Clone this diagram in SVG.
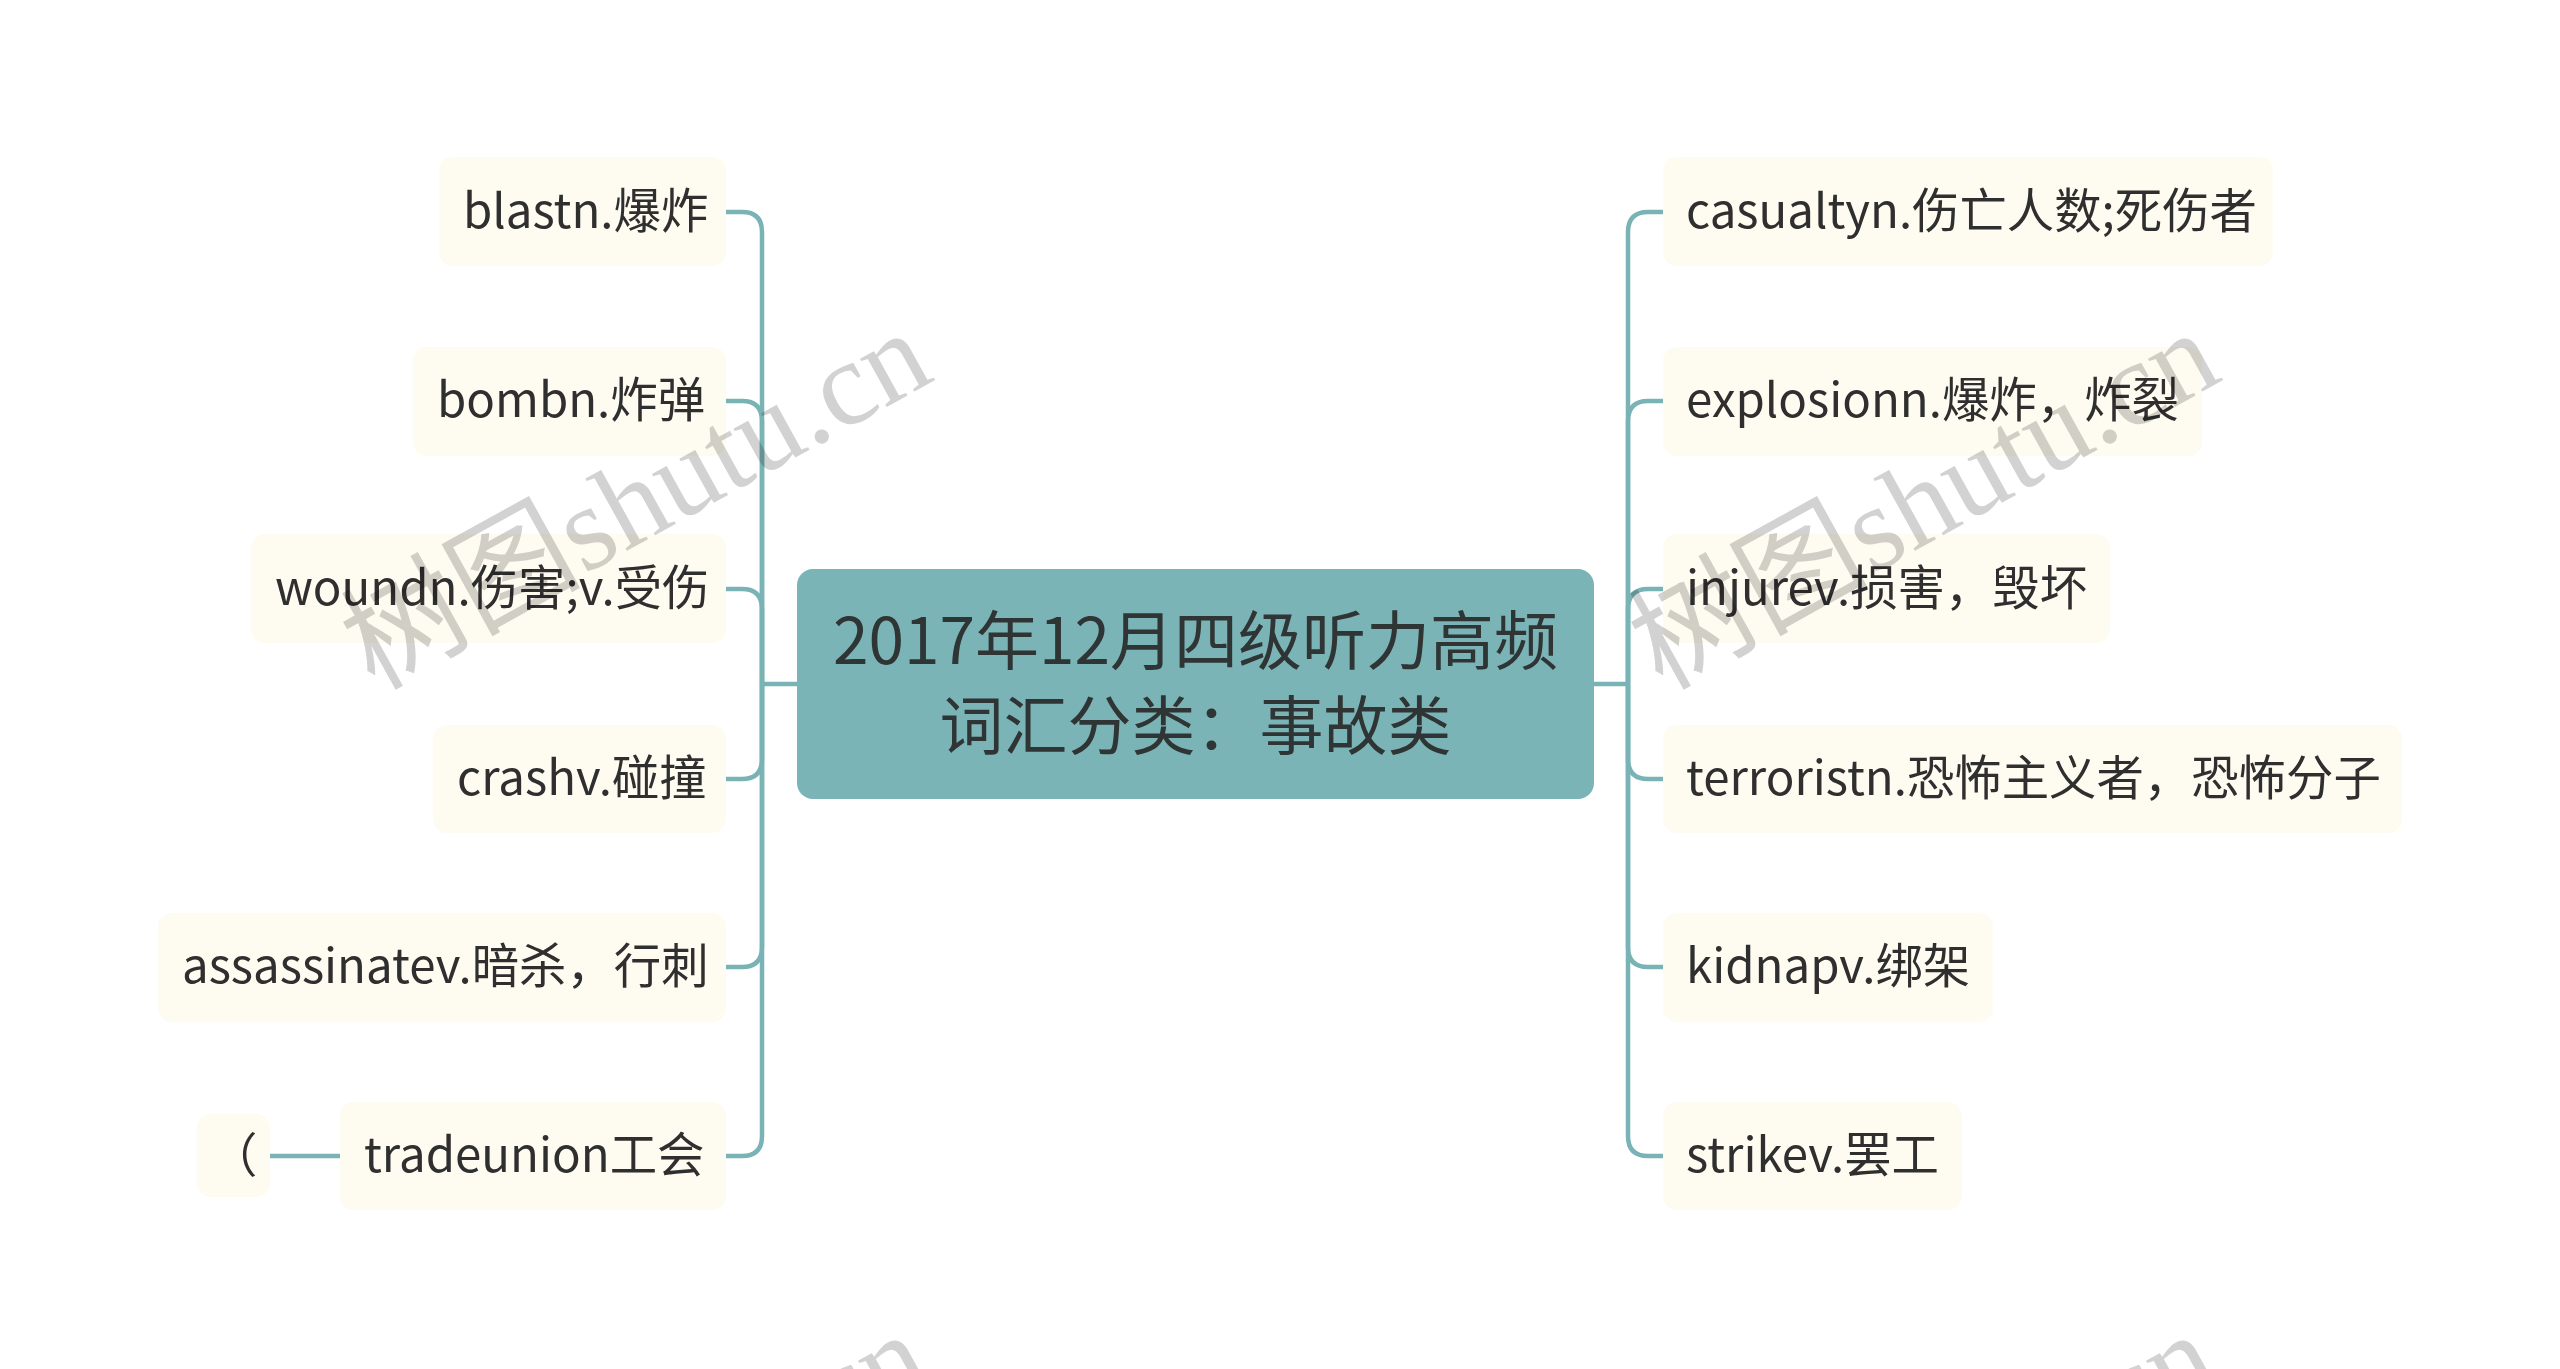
<svg xmlns="http://www.w3.org/2000/svg" width="2560" height="1369" viewBox="0 0 2560 1369">
<style>
.bg{fill:#ffffff}
.node rect{fill:#fefbf1}
.node text{font-family:"Noto Sans CJK SC","Noto Sans",sans-serif;font-size:47.4px;fill:#2f2f2f}
.root rect{fill:#7bb4b6}
.root text{font-family:"Noto Sans CJK SC","Noto Sans",sans-serif;font-size:64px;fill:#2f3535;text-anchor:middle}
.conn path{fill:none;stroke:#7ab3b5;stroke-width:4.5}
.wm{font-family:"Liberation Serif","Noto Sans CJK SC",serif;font-size:120px;fill:#d2d2d2;mix-blend-mode:multiply}
</style>
<rect class="bg" x="0" y="0" width="2560" height="1369"/>
<g id="connectors" class="conn">
<path d="M797,684 H762"/>
<path d="M762,684 V232 Q762,212 742,212 H726"/>
<path d="M762,684 V421 Q762,401 742,401 H726"/>
<path d="M762,684 V609 Q762,589 742,589 H726"/>
<path d="M762,684 V759 Q762,779 742,779 H726"/>
<path d="M762,684 V947 Q762,967 742,967 H726"/>
<path d="M762,684 V1136 Q762,1156 742,1156 H726"/>
<path d="M340,1156 H270"/>
<path d="M1594,684 H1628"/>
<path d="M1628,684 V232 Q1628,212 1648,212 H1663"/>
<path d="M1628,684 V421 Q1628,401 1648,401 H1663"/>
<path d="M1628,684 V609 Q1628,589 1648,589 H1663"/>
<path d="M1628,684 V759 Q1628,779 1648,779 H1663"/>
<path d="M1628,684 V947 Q1628,967 1648,967 H1663"/>
<path d="M1628,684 V1136 Q1628,1156 1648,1156 H1663"/>
</g>
<g id="root" class="root">
<rect x="797" y="569" width="797" height="230" rx="16"/>
<text x="1195.5" y="664">2017年12月四级听力高频</text>
<text x="1195.5" y="749">词汇分类：事故类</text>
</g>
<g id="n-blast" class="node"><rect x="439" y="157" width="287" height="109" rx="14"/><text x="463" y="228">blastn.爆炸</text></g>
<g id="n-bomb" class="node"><rect x="413" y="347" width="313" height="109" rx="14"/><text x="437" y="417">bombn.炸弹</text></g>
<g id="n-wound" class="node"><rect x="251" y="534" width="475" height="109" rx="14"/><text x="275" y="605">woundn.伤害;v.受伤</text></g>
<g id="n-crash" class="node"><rect x="433" y="725" width="293" height="108" rx="14"/><text x="457" y="795">crashv.碰撞</text></g>
<g id="n-assassinate" class="node"><rect x="158" y="913" width="568" height="109" rx="14"/><text x="182" y="983">assassinatev.暗杀，行刺</text></g>
<g id="n-tradeunion" class="node"><rect x="340" y="1102" width="386" height="108" rx="14"/><text x="364" y="1172">tradeunion工会</text></g>
<g id="n-paren" class="node"><rect x="197" y="1114" width="73" height="83" rx="14"/><text x="210" y="1172">（</text></g>
<g id="n-casualty" class="node"><rect x="1663" y="157" width="610" height="109" rx="14"/><text x="1686" y="228">casualtyn.伤亡人数;死伤者</text></g>
<g id="n-explosion" class="node"><rect x="1663" y="347" width="539" height="109" rx="14"/><text x="1686" y="417">explosionn.爆炸，炸裂</text></g>
<g id="n-injure" class="node"><rect x="1663" y="534" width="447" height="109" rx="14"/><text x="1686" y="605">injurev.损害，毁坏</text></g>
<g id="n-terrorist" class="node"><rect x="1663" y="725" width="739" height="108" rx="14"/><text x="1686" y="795">terroristn.恐怖主义者，恐怖分子</text></g>
<g id="n-kidnap" class="node"><rect x="1663" y="913" width="330" height="109" rx="14"/><text x="1686" y="983">kidnapv.绑架</text></g>
<g id="n-strike" class="node"><rect x="1663" y="1102" width="299" height="108" rx="14"/><text x="1686" y="1172">strikev.罢工</text></g>
<g id="watermarks">
<text class="wm" x="374" y="691" transform="rotate(-29 374 691)">树图shutu.cn</text>
<text class="wm" x="1662" y="691" transform="rotate(-29 1662 691)">树图shutu.cn</text>
<text class="wm" x="372" y="1693" transform="rotate(-29 372 1693)">树图shutu.cn</text>
<text class="wm" x="1660" y="1693" transform="rotate(-29 1660 1693)">树图shutu.cn</text>
</g>
</svg>
